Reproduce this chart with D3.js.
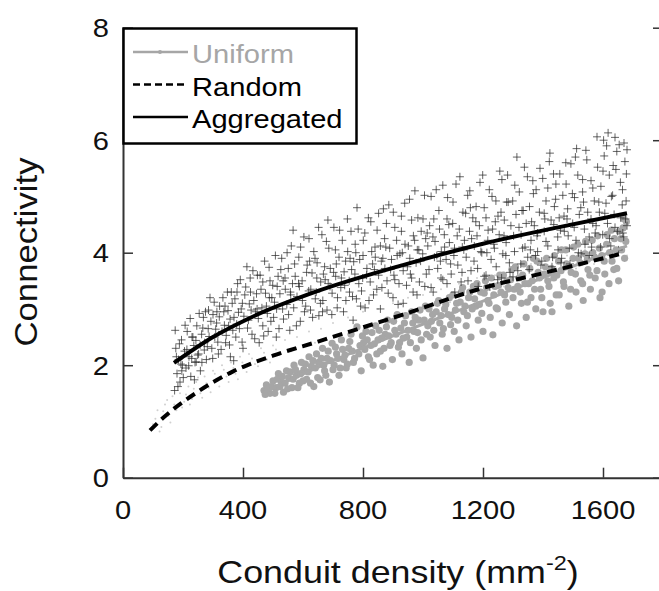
<!DOCTYPE html>
<html>
<head>
<meta charset="utf-8">
<script src="https://cdn.jsdelivr.net/npm/d3@7"></script>
<style>
  body { margin: 0; background: #fff; }
  svg text { font-family: "Liberation Sans", Arial, sans-serif; }
</style>
</head>
<body>
<div id="chart"></div>
<script>
// tick labels
const xTicks = [0, 400, 800, 1200, 1600];
const yTicks = [0, 2, 4, 6, 8];

// fitted curves, [conduit density, connectivity]
const aggregatedLine = [[170,2.04],[300,2.5],[423,2.84],[650,3.32],[933,3.78],[1200,4.16],[1450,4.45],[1680,4.70]];
const randomLine = [[90,0.84],[133,1.06],[250,1.53],[367,1.89],[500,2.17],[650,2.42],[933,2.9],[1217,3.4],[1380,3.61],[1667,3.99]];
const uniformLine = [[473,1.53],[657,1.98],[900,2.52],[1200,3.14],[1450,3.66],[1680,4.12]];

// aggregated samples (crosses)
const aggregatedPts = [[172,1.55],[176,2.3],[180,1.85],[185,2.1],[190,1.7],[195,2.45],[198,2.0],[205,2.25],[210,1.95],[214,2.6],[220,2.15],[226,1.8],[230,2.5],[236,2.35],[240,2.05],[246,2.7],[252,2.2],[258,1.9],[262,2.55],[268,2.85],[272,2.4],[278,2.1],[284,2.65],[290,3.2],[296,2.3],[300,2.9],[306,2.5],[312,2.75],[318,2.2],[322,3.05],[330,2.6],[336,2.95],[342,2.4],[348,3.3],[352,2.7],[358,2.15],[364,3.1],[370,2.85],[376,2.5],[382,3.45],[388,2.65],[394,3.0],[400,2.3],[406,3.25],[413,3.75],[418,2.8],[424,3.55],[430,2.55],[436,3.15],[442,2.95],[448,3.6],[454,2.4],[460,3.35],[466,2.7],[472,3.85],[478,3.05],[484,2.6],[490,3.5],[496,3.2],[502,2.85],[508,3.95],[514,3.4],[520,2.65],[526,3.7],[532,3.0],[540,3.55],[547,4.0],[552,2.9],[558,3.3],[567,4.4],[572,3.8],[578,2.7],[585,3.45],[592,4.1],[598,3.15],[605,2.95],[612,3.65],[620,4.25],[626,3.35],[632,2.85],[640,3.9],[646,3.55],[652,4.45],[658,3.1],[665,2.95],[672,3.75],[678,4.2],[683,4.58],[690,3.4],[696,2.9],[702,3.65],[708,4.05],[715,3.2],[722,4.4],[728,3.55],[735,2.95],[742,3.85],[748,4.6],[755,3.3],[762,3.7],[767,2.8],[774,4.15],[780,4.8],[786,3.45],[792,3.05],[800,3.95],[806,4.35],[812,3.6],[820,3.15],[826,4.55],[832,3.8],[840,4.1],[846,3.35],[852,4.7],[858,3.0],[866,3.9],[872,4.25],[880,3.5],[886,4.85],[892,3.7],[900,3.2],[906,4.45],[914,3.95],[920,3.45],[928,4.65],[934,3.1],[940,4.15],[948,3.75],[955,4.95],[962,3.55],[968,4.3],[973,5.1],[980,3.25],[986,4.05],[992,3.85],[1000,4.6],[1006,3.4],[1014,4.35],[1020,3.7],[1027,5.0],[1034,3.3],[1040,4.2],[1046,3.95],[1053,4.75],[1060,3.55],[1066,5.2],[1072,4.1],[1080,3.45],[1086,4.5],[1092,3.8],[1100,4.9],[1106,3.3],[1114,4.3],[1123,5.35],[1130,3.65],[1136,4.05],[1142,4.7],[1150,3.5],[1156,5.1],[1162,4.25],[1170,3.85],[1176,4.55],[1184,3.4],[1190,5.25],[1196,4.0],[1204,4.8],[1210,3.6],[1217,4.4],[1223,3.39],[1230,5.0],[1236,4.15],[1244,3.75],[1250,4.65],[1256,5.45],[1262,3.55],[1270,4.3],[1276,3.95],[1284,4.9],[1290,3.65],[1300,3.57],[1306,5.2],[1313,5.7],[1320,4.45],[1326,3.8],[1334,4.75],[1340,4.1],[1348,5.35],[1354,3.7],[1362,4.55],[1368,5.05],[1375,3.95],[1382,4.35],[1390,5.5],[1396,3.85],[1404,4.7],[1410,4.2],[1416,5.15],[1423,5.77],[1430,3.75],[1436,4.5],[1442,4.95],[1450,4.05],[1456,5.4],[1462,3.9],[1470,4.65],[1476,5.6],[1484,4.3],[1490,3.8],[1498,5.05],[1504,4.45],[1512,5.85],[1518,4.0],[1526,4.8],[1532,5.3],[1540,4.15],[1546,5.65],[1554,3.95],[1560,4.6],[1566,5.15],[1574,4.35],[1580,6.06],[1586,4.9],[1592,4.1],[1600,5.45],[1606,4.7],[1612,5.9],[1617,6.13],[1622,4.25],[1628,5.0],[1634,5.55],[1640,4.45],[1646,5.8],[1652,4.05],[1658,5.25],[1664,4.85],[1670,5.95],[1675,4.6],[1680,5.83],[1678,5.4],[1666,4.35],
  [174,2.62],[183,1.62],[188,2.38],[193,2.02],[201,1.78],[207,2.71],[213,2.28],[219,1.99],[224,2.83],[229,2.12],[233,2.5],[238,1.74],[243,2.44],[249,2.18],[254,2.92],[257,2.36],[263,2.05],[266,2.66],[271,2.27],[178,2.15],[196,1.9],[244,2.06],
  [275,2.95],[281,2.33],[287,2.51],[293,2.78],[299,2.12],[304,3.12],[309,2.64],[316,2.41],[321,2.86],[327,2.28],[333,3.2],[338,2.71],[344,2.53],[350,2.97],[355,2.36],[361,3.3],[366,2.62],[369,2.08],[285,2.98],[313,2.95],[340,3.05],[357,2.82],
  [373,3.18],[379,2.73],[385,2.94],[391,3.52],[397,2.41],[403,2.87],[409,3.39],[415,2.66],[421,3.09],[427,2.98],[433,3.68],[439,2.47],[445,3.27],[451,2.83],[457,3.6],[463,3.02],[469,2.52],[380,3.3],[398,3.1],[425,3.3],[447,3.0],[466,3.48],
  [475,3.28],[481,2.92],[487,3.74],[493,2.78],[499,3.42],[505,3.12],[511,2.5],[517,3.58],[523,3.27],[529,3.9],[535,2.82],[541,3.35],[546,3.08],[551,3.72],[556,2.62],[561,4.12],[565,3.45],[569,3.02],[488,3.2],[512,3.0],[534,3.5],[559,3.25],
  [574,3.58],[580,3.22],[586,3.92],[591,2.78],[597,3.5],[603,4.28],[609,3.05],[614,3.78],[619,3.32],[625,2.98],[630,3.64],[636,4.02],[641,3.18],[647,3.82],[653,2.88],[659,3.48],[663,4.32],[668,3.62],[588,3.4],[622,3.85],[644,3.3],[666,3.15],
  [674,3.52],[680,2.98],[686,4.08],[691,3.72],[697,3.28],[703,4.45],[709,3.58],[714,3.02],[720,3.92],[726,3.38],[731,4.22],[737,3.66],[743,3.15],[749,4.02],[754,3.5],[760,4.38],[765,3.22],[769,3.84],[684,3.45],[711,3.8],[739,3.42],[757,3.9],
  [773,3.62],[778,3.18],[784,4.42],[789,3.88],[795,3.32],[801,4.22],[807,3.02],[813,3.72],[818,4.62],[824,3.48],[829,4.02],[835,3.25],[841,3.92],[847,4.4],[852,3.6],[858,4.12],[863,3.38],[868,4.78],[776,4.0],[799,3.55],[838,3.7],[861,3.85],
  [873,3.72],[878,4.52],[884,3.28],[889,4.08],[895,3.88],[901,4.72],[906,3.52],[912,4.22],[917,3.08],[923,3.98],[928,4.38],[934,3.68],[939,4.88],[945,3.42],[951,4.12],[956,3.9],[962,4.58],[967,3.3],[876,4.1],[903,3.6],[931,4.0],[958,3.62],
  [972,4.22],[977,3.82],[983,4.62],[988,3.48],[994,4.38],[999,3.98],[1005,5.02],[1011,3.62],[1016,4.12],[1022,4.48],[1027,3.38],[1033,4.28],[1038,3.92],[1044,5.12],[1049,3.72],[1055,4.42],[1061,4.02],[1066,3.52],[981,4.05],[1009,4.25],[1036,4.6],[1058,3.85],
  [1071,4.32],[1077,3.88],[1082,4.98],[1088,4.18],[1094,3.62],[1099,4.52],[1105,4.08],[1110,5.22],[1116,3.78],[1121,4.42],[1127,3.48],[1133,4.72],[1138,4.22],[1144,3.92],[1149,5.02],[1155,4.38],[1160,3.68],[1166,4.62],[1080,4.6],[1103,3.95],[1131,4.1],[1158,4.8],
  [1171,4.12],[1177,4.82],[1182,3.72],[1188,4.48],[1193,4.02],[1199,5.38],[1204,3.58],[1210,4.62],[1216,4.22],[1221,5.12],[1227,3.88],[1232,4.42],[1238,4.08],[1243,4.92],[1249,3.52],[1254,4.32],[1260,4.72],[1266,3.98],[1180,4.3],[1213,4.0],[1241,4.55],[1263,5.3],
  [1271,4.58],[1277,4.18],[1282,5.38],[1288,3.82],[1293,4.48],[1299,4.92],[1305,4.02],[1310,4.68],[1316,3.68],[1321,5.08],[1327,4.32],[1332,4.08],[1338,5.52],[1344,4.52],[1349,3.92],[1355,4.82],[1360,4.22],[1366,5.28],[1279,4.9],[1302,4.3],[1330,4.75],[1358,4.05],
  [1371,4.48],[1377,5.12],[1382,4.02],[1388,4.72],[1393,3.78],[1399,5.32],[1404,4.38],[1410,4.92],[1416,4.12],[1421,5.62],[1427,4.58],[1432,3.92],[1438,4.82],[1443,5.22],[1449,4.28],[1454,4.62],[1460,3.82],[1466,5.02],[1380,4.3],[1406,4.6],[1435,5.4],[1458,4.4],
  [1471,4.38],[1477,5.22],[1482,4.78],[1488,4.08],[1493,5.58],[1499,4.52],[1505,4.98],[1510,4.22],[1516,5.38],[1521,4.68],[1527,3.98],[1532,5.08],[1538,4.42],[1543,5.82],[1549,4.72],[1554,4.28],[1560,5.28],[1566,4.52],[1480,4.6],[1508,5.7],[1535,4.9],[1562,4.1],
  [1571,4.92],[1577,4.48],[1582,5.52],[1588,4.72],[1593,5.18],[1599,4.32],[1604,5.72],[1610,4.88],[1615,4.52],[1621,5.38],[1626,4.12],[1632,5.02],[1637,4.68],[1643,5.48],[1648,4.38],[1654,5.92],[1659,4.62],[1665,5.12],[1669,4.28],[1673,5.62],[1677,4.92],[1680,4.48],[1602,6.0],[1640,6.05]];

// uniform samples (grey dots)
const uniformPts = [[470,1.55],[478,1.65],[490,1.5],[500,1.72],[510,1.6],[518,1.85],[528,1.7],[535,1.52],[545,1.9],[552,1.78],[563,1.6],[570,2.0],[578,1.82],[588,1.68],[595,2.05],[603,1.92],[612,1.75],[620,2.15],[628,1.98],[636,1.62],[645,2.2],[652,2.05],[657,1.74],[665,2.3],[672,1.9],[680,2.12],[688,1.7],[697,2.39],[704,2.0],[712,2.2],[720,1.82],[728,2.45],[736,2.1],[744,1.95],[752,2.3],[760,2.55],[768,2.05],[780,2.68],[786,2.2],[794,1.9],[802,2.4],[810,2.6],[818,2.15],[826,2.35],[834,2.0],[842,2.7],[850,2.45],[858,2.25],[866,1.98],[874,2.55],[882,2.8],[890,2.35],[898,2.1],[906,2.62],[914,2.9],[922,2.4],[930,2.2],[938,2.75],[946,2.5],[954,2.05],[962,2.95],[970,2.6],[978,2.3],[986,2.8],[994,2.45],[1000,2.13],[1008,3.05],[1016,2.7],[1024,2.5],[1032,2.9],[1040,2.35],[1048,3.1],[1056,2.75],[1064,2.55],[1072,3.0],[1080,2.3],[1088,3.2],[1096,2.85],[1104,2.6],[1112,3.1],[1120,2.45],[1128,3.3],[1136,2.95],[1144,2.7],[1152,3.2],[1160,2.5],[1168,3.4],[1176,3.05],[1184,2.8],[1192,3.3],[1200,2.6],[1208,3.5],[1216,3.15],[1224,2.85],[1233,2.54],[1240,3.4],[1248,3.0],[1256,3.6],[1264,2.75],[1272,3.25],[1280,3.5],[1288,2.9],[1296,3.7],[1304,3.35],[1312,2.7],[1320,3.55],[1328,3.1],[1336,3.8],[1344,2.85],[1352,3.45],[1360,3.2],[1368,3.9],[1376,3.0],[1384,3.65],[1392,3.35],[1400,2.95],[1408,3.75],[1416,3.5],[1424,3.1],[1430,2.95],[1438,3.95],[1446,3.6],[1454,3.25],[1462,4.05],[1470,3.4],[1478,3.8],[1486,3.05],[1494,3.65],[1502,4.1],[1510,3.3],[1518,3.9],[1526,3.5],[1534,3.15],[1542,4.2],[1550,3.7],[1558,3.35],[1566,4.0],[1574,3.55],[1582,4.3],[1590,3.2],[1597,3.3],[1604,3.85],[1612,4.15],[1620,3.45],[1628,4.4],[1636,3.7],[1644,4.05],[1652,3.5],[1660,4.25],[1667,4.44],[1672,3.9],[1678,4.55],
  [474,1.48],[483,1.58],[495,1.62],[506,1.5],[514,1.75],[523,1.62],[531,1.8],[540,1.68],[549,1.58],[558,1.88],[567,1.75],[575,1.92],[583,1.6],[592,1.85],[600,1.72],[608,2.02],[617,1.88],[625,1.68],[633,2.08],[641,1.95],[649,1.78],[661,2.12],[669,2.0],[676,1.82],[684,2.25],[692,2.08],[700,1.92],[708,2.32],[716,2.12],[724,1.95],[732,2.28],[740,2.18],[748,2.02],[756,2.42],[764,2.25],[772,2.12],[790,2.35],[798,2.52],[806,2.28],[814,2.45],[822,2.1],[830,2.58],[838,2.38],[846,2.2],[854,2.62],[862,2.48],[870,2.3],[878,2.68],[886,2.52],[894,2.4],[902,2.78],[910,2.55],[918,2.32],[926,2.66],[934,2.48],[942,2.88],[950,2.62],[958,2.4],[966,2.75],[974,2.85],[982,2.58],[990,2.98],[1004,2.8],[1012,2.55],[1020,3.0],[1028,2.78],[1036,2.62],[1044,2.95],[1052,3.15],[1060,2.88],[1068,2.65],[1076,3.08],[1084,2.9],[1092,2.72],[1100,3.25],[1108,2.98],[1116,2.8],[1124,3.12],[1132,3.38],[1140,3.05],[1148,2.88],[1156,3.3],[1164,3.0],[1172,3.18],[1180,3.45],[1188,3.08],[1196,2.92],[1204,3.28],[1212,3.38],[1220,3.1],[1228,3.55],[1236,3.25],[1244,3.02],[1252,3.42],[1260,3.3],[1268,3.6],[1276,3.12],[1284,3.38],[1292,3.52],[1300,3.2],[1308,3.75],[1316,3.4],[1324,3.3],[1332,3.6],[1340,3.45],[1348,3.12],[1356,3.72],[1364,3.5],[1372,3.35],[1380,3.85],[1388,3.55],[1396,3.2],[1404,3.62],[1412,3.9],[1420,3.4],[1428,3.72],[1436,3.55],[1444,3.25],[1452,3.85],[1460,3.68],[1468,3.48],[1476,4.05],[1484,3.75],[1492,3.35],[1500,3.9],[1508,3.62],[1516,4.15],[1524,3.82],[1532,3.45],[1540,3.98],[1548,3.88],[1556,3.6],[1564,4.22],[1572,3.92],[1580,3.68],[1588,4.08],[1596,3.95],[1606,3.62],[1614,4.32],[1622,4.0],[1630,3.85],[1638,4.25],[1646,3.72],[1654,4.38],[1662,4.05],[1670,4.6],[1676,4.2]];

// random samples (faint dots)
const randomPts = [[100,0.95],[115,1.2],[128,0.9],[140,1.3],[152,1.1],[165,1.45],[178,1.2],[190,1.5],[204,1.35],[218,1.62],[230,1.4],[244,1.7],[258,1.5],[272,1.8],[286,1.6],[300,1.9],[315,1.72],[330,2.0],[345,1.8],[360,2.05],[375,1.85],[390,2.15],[405,1.95],[420,2.2],[440,2.02],[460,2.3],[480,2.1],[500,2.35],[520,2.18],[540,2.45],[560,2.25],[580,2.5],[600,2.32],[620,2.6],[640,2.4],[660,2.65],[680,2.45],[700,2.75],[725,2.55],[750,2.85],[775,2.62],[800,2.95],[825,2.7],[850,3.0],[875,2.8],[900,3.1],[925,2.88],[950,3.2],[975,2.95],[1000,3.25],[1030,3.05],[1060,3.35],[1090,3.12],[1120,3.45],[1150,3.2],[1180,3.55],[1210,3.3],[1240,3.6],[1270,3.4],[1300,3.7],[1330,3.48],[1360,3.8],[1390,3.55],[1420,3.9],[1450,3.65],[1480,3.95],[1510,3.72],[1540,4.05],[1570,3.8],[1600,4.1],[1630,3.9],[1660,4.2],[1680,3.95],
  [108,1.05],[122,0.82],[134,1.18],[147,1.38],[158,0.98],[171,1.3],[184,1.62],[197,1.25],[210,1.48],[223,1.3],[236,1.58],[250,1.78],[264,1.42],[278,1.68],[292,1.52],[306,1.85],[321,1.62],[336,1.92],[352,1.7],[368,1.95],[383,1.75],[398,2.05],[412,1.88],[430,2.12],[450,1.98],[470,2.22],[490,2.05],[510,2.28]];

const legendItems = ['Uniform', 'Random', 'Aggregated'];

const W = 659, H = 591;
const margin = {top: 27.7, right: -4, bottom: 113.3, left: 123};
const width = W - margin.left - margin.right;
const height = H - margin.top - margin.bottom;
const sx = 1.12;   // the original font is a little wider than Arial

const svg = d3.select('#chart')
  .append('svg')
  .attr('width', W)
  .attr('height', H);

const g = svg.append('g')
  .attr('transform', `translate(${margin.left}, ${margin.top})`);

const x = d3.scaleLinear().domain([0, 1800]).range([0, width]);
const y = d3.scaleLinear().domain([0, 8]).range([height, 0]);
const grey = '#a6a6a6';

// scatter
g.append('g')
  .selectAll('circle')
  .data(randomPts)
  .join('circle')
  .attr('cx', d => x(d[0]))
  .attr('cy', d => y(d[1]))
  .attr('r', 1)
  .attr('fill', '#d0d0d0');

g.append('g')
  .selectAll('circle')
  .data(uniformPts)
  .join('circle')
  .attr('cx', d => x(d[0]))
  .attr('cy', d => y(d[1]))
  .attr('r', 3.6)
  .attr('fill', grey);

g.append('g')
  .selectAll('path')
  .data(aggregatedPts)
  .join('path')
  .attr('d', d => `M${x(d[0]) - 4},${y(d[1])}h8M${x(d[0])},${y(d[1]) - 4}v8`)
  .attr('stroke', '#2a2a2a')
  .attr('stroke-opacity', 0.72)
  .attr('stroke-width', 1)
  .attr('fill', 'none');

// curves
const line = d3.line().curve(d3.curveMonotoneX).x(d => x(d[0])).y(d => y(d[1]));
g.append('path').datum(uniformLine).attr('d', line)
  .attr('fill', 'none').attr('stroke', grey).attr('stroke-width', 3);
g.append('path').datum(randomLine).attr('d', line)
  .attr('fill', 'none').attr('stroke', '#000').attr('stroke-width', 4)
  .attr('stroke-dasharray', '10,6');
g.append('path').datum(aggregatedLine).attr('d', line)
  .attr('fill', 'none').attr('stroke', '#000').attr('stroke-width', 4);

// axes, ticks inside
const axisStyle = sel => sel
  .call(s => s.selectAll('.domain').attr('stroke', '#333').attr('stroke-width', 2))
  .call(s => s.selectAll('.tick line').attr('stroke', '#333').attr('stroke-width', 1.5));

g.append('g')
  .attr('transform', `translate(0, ${height})`)
  .call(d3.axisBottom(x).tickValues(xTicks).tickSize(-10).tickSizeOuter(0).tickFormat(''))
  .call(axisStyle);
g.append('g')
  .call(d3.axisLeft(y).tickValues(yTicks).tickSize(-10).tickSizeOuter(0).tickFormat(''))
  .call(axisStyle);
g.append('g')
  .attr('transform', `translate(${width}, 0)`)
  .call(d3.axisRight(y).tickValues(yTicks).tickSize(-10).tickSizeOuter(0).tickFormat(''))
  .call(axisStyle);

// tick labels (stretched text)
g.append('g')
  .selectAll('text')
  .data(xTicks)
  .join('text')
  .attr('transform', d => `translate(${x(d)}, ${height + 41}) scale(${sx},1)`)
  .attr('text-anchor', 'middle')
  .attr('font-size', 26)
  .attr('fill', '#111')
  .text(d => d);
g.append('g')
  .selectAll('text')
  .data(yTicks)
  .join('text')
  .attr('transform', d => `translate(-14, ${y(d) + 9.5}) scale(${sx},1)`)
  .attr('text-anchor', 'end')
  .attr('font-size', 26)
  .attr('fill', '#111')
  .text(d => d);

// axis titles
const xt = svg.append('text')
  .attr('transform', `translate(398, 583) scale(${sx},1)`)
  .attr('text-anchor', 'middle')
  .attr('font-size', 32)
  .attr('fill', '#111');
xt.append('tspan').text('Conduit density (mm');
xt.append('tspan').attr('font-size', 21).attr('dy', -13).text('-2');
xt.append('tspan').attr('dy', 13).text(')');

svg.append('text')
  .attr('transform', `translate(37, 252) rotate(-90) scale(${sx},1)`)
  .attr('text-anchor', 'middle')
  .attr('font-size', 31)
  .attr('fill', '#111')
  .text('Connectivity');

// legend
const legend = svg.append('g');
legend.append('rect')
  .attr('x', 123.5).attr('y', 28.5)
  .attr('width', 233).attr('height', 115)
  .attr('fill', '#fff')
  .attr('stroke', '#000')
  .attr('stroke-width', 2.5);

const ly = d3.scalePoint().domain(legendItems).range([52, 117]);
const lStyle = {
  Uniform: {stroke: grey, dash: null},
  Random: {stroke: '#000', dash: '7,4'},
  Aggregated: {stroke: '#000', dash: null}
};
legendItems.forEach(k => {
  legend.append('line')
    .attr('x1', 133).attr('x2', 188)
    .attr('y1', ly(k)).attr('y2', ly(k))
    .attr('stroke', lStyle[k].stroke)
    .attr('stroke-width', 2.5)
    .attr('stroke-dasharray', lStyle[k].dash);
  legend.append('text')
    .attr('transform', `translate(192, ${ly(k) + 11}) scale(${sx},1)`)
    .attr('font-size', 26)
    .attr('fill', k === 'Uniform' ? grey : '#000')
    .text(k);
});
legend.append('circle')
  .attr('cx', 160).attr('cy', ly('Uniform'))
  .attr('r', 2).attr('fill', grey);
</script>
</body>
</html>
